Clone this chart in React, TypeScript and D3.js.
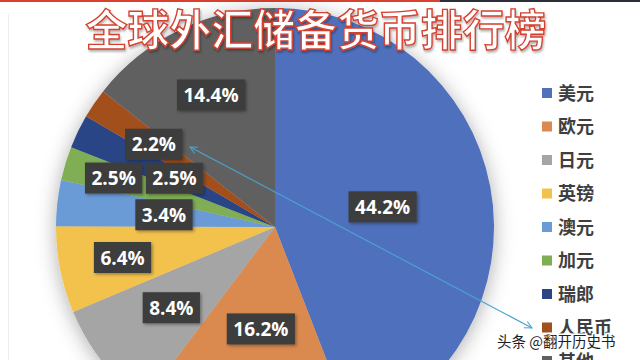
import React from "react";
import * as d3 from "d3";

const categories = ["美元", "欧元", "日元", "英镑", "澳元", "加元", "瑞郎", "人民币", "其他"];
const shares = [44.2, 16.2, 8.4, 6.4, 3.4, 2.5, 2.5, 2.2, 14.4];
const labels = ["44.2%", "16.2%", "8.4%", "6.4%", "3.4%", "2.5%", "2.5%", "2.2%", "14.4%"];
const titleText = "全球外汇储备货币排行榜";
const watermark = "头条 @翻开历史书";

const colors = ["#5070BC", "#DA8A50", "#A5A5A5", "#F2C24E", "#6A9BD6", "#7FAE55", "#2B4486", "#A24F1E", "#616161"];
// label distance from centre, as a fraction of radius (layout)
const labelRadius = [0.5, 0.47, 0.6, 0.71, 0.51, 0.77, 0.51, 0.67, 0.67];

const W = 640, H = 360;
const cx = 275, cy = 227, R = 219;

function measure(text: string, font: string): number {
  const c = document.createElement("canvas").getContext("2d");
  if (!c) return text.length * 10;
  c.font = font;
  return c.measureText(text).width;
}

export default function App() {
  const pie = d3.pie<number>().sort(null).value((d) => d).startAngle(0).endAngle(Math.PI * 2);
  const arcs = pie(shares);
  const arc = d3.arc<d3.PieArcDatum<number>>().innerRadius(0).outerRadius(R);
  const labelFont = "700 19px 'Open Sans'";

  const legendY = d3.scalePoint<string>().domain(categories).range([93, 361]);

  return (
    <div style={{ position: "fixed", left: 0, top: 0 }}>
      <svg width={W} height={H} style={{ display: "block", background: "#fff" }}>
        <defs>
          <filter id="pieShadow" x="-20%" y="-20%" width="140%" height="140%">
            <feDropShadow dx="0" dy="3" stdDeviation="10" floodColor="#000" floodOpacity="0.32" />
          </filter>
          <filter id="boxShadow" x="-20%" y="-20%" width="150%" height="150%">
            <feDropShadow dx="1.5" dy="1.5" stdDeviation="1.5" floodColor="#000" floodOpacity="0.35" />
          </filter>
          <filter id="titleShadow" x="-5%" y="-20%" width="110%" height="150%">
            <feDropShadow dx="1" dy="2" stdDeviation="1.2" floodColor="#000" floodOpacity="0.3" />
          </filter>
          <marker id="arrowHead" viewBox="0 0 10 10" refX="9" refY="5" markerWidth="9" markerHeight="9" orient="auto-start-reverse" markerUnits="userSpaceOnUse">
            <path d="M1,1 L9,5 L1,9" fill="none" stroke="#4BA3D0" strokeWidth="1.2" />
          </marker>
        </defs>

        {/* frame lines */}
        <rect x={0} y={0} width={440} height={2} fill="#D9402F" />
        <rect x={440} y={0} width={200} height={2} fill="#2A2E3A" />
        <rect x={8} y={14} width={1} height={346} fill="#EDEDED" />

        {/* pie */}
        <g transform={`translate(${cx},${cy})`}>
          <g filter="url(#pieShadow)">
            {arcs.map((a, i) => (
              <path key={categories[i]} d={arc(a) || ""} fill={colors[i]} />
            ))}
          </g>
        </g>

        {/* data labels */}
        {arcs.map((a, i) => {
          const mid = (a.startAngle + a.endAngle) / 2;
          const r = labelRadius[i] * R;
          const x = cx + Math.sin(mid) * r;
          const y = cy - Math.cos(mid) * r;
          const tw = measure(labels[i], labelFont);
          const bw = tw + 13;
          const bh = 31;
          return (
            <g key={"l" + i}>
              <rect x={x - bw / 2} y={y - bh / 2} width={bw} height={bh} fill="#3C3C3C" filter="url(#boxShadow)" />
              <text x={x} y={y + 7} textAnchor="middle" fill="#fff" style={{ font: labelFont }}>
                {labels[i]}
              </text>
            </g>
          );
        })}

        {/* arrow */}
        <line x1={532} y1={328} x2={190} y2={147} stroke="#4BA3D0" strokeWidth={1.2} markerStart="url(#arrowHead)" markerEnd="url(#arrowHead)" />

        {/* legend */}
        {categories.map((c, i) => {
          const y = legendY(c) as number;
          return (
            <g key={"lg" + c}>
              <rect x={542} y={y - 5} width={10} height={10} fill={colors[i]} />
              <text x={558} y={y + 6.5} fill="#3F3F3F" style={{ font: "700 18px 'Noto Sans CJK SC'" }}>
                {c}
              </text>
            </g>
          );
        })}

        {/* watermark */}
        <text x={497} y={347} fill="#1E1E1E" stroke="#fff" strokeWidth={3} paintOrder="stroke" style={{ font: "400 14.5px 'Noto Sans CJK SC'" }}>
          {watermark}
        </text>

        {/* title */}
        <text
          x={316}
          y={46}
          textAnchor="middle"
          textLength={461}
          lengthAdjust="spacingAndGlyphs"
          fill="#fff"
          stroke="#D6402F"
          strokeWidth={1.4}
          filter="url(#titleShadow)"
          style={{ font: "700 43px 'Noto Sans CJK SC'" }}
        >
          {titleText}
        </text>
      </svg>
    </div>
  );
}
